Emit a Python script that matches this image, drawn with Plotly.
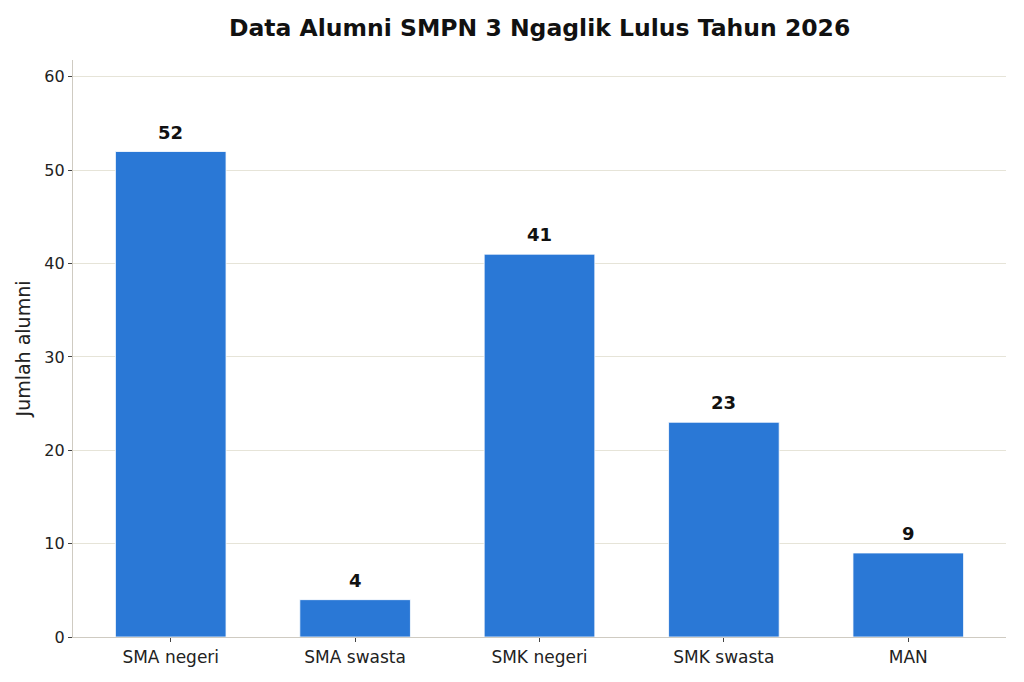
import plotly.graph_objects as go

categories = ["SMA negeri", "SMA swasta", "SMK negeri", "SMK swasta", "MAN"]
values = [52, 4, 41, 23, 9]
y_ticks = [0, 10, 20, 30, 40, 50, 60]

FONT = "DejaVu Sans"
BAR_COLOR = "#2a78d6"

fig = go.Figure()
fig.add_trace(go.Bar(
    x=categories, y=values, width=0.6,
    marker=dict(color=BAR_COLOR, line=dict(color="white", width=0.8)),
    hoverinfo="x+y",
))

for c, v in zip(categories, values):
    fig.add_annotation(x=c, y=v, text=f"<b>{v}</b>", showarrow=False,
                       yanchor="bottom", yshift=7,
                       font=dict(family=FONT, size=18, color="#111111"))

fig.update_layout(
    width=1024, height=682,
    margin=dict(l=73, r=18, t=60, b=45),
    paper_bgcolor="white", plot_bgcolor="white",
    font=dict(family=FONT, size=15, color="#222222"),
    title=dict(text="<b>Data Alumni SMPN 3 Ngaglik Lulus Tahun 2026</b>",
               x=0.527, xanchor="center", y=0.96, yanchor="middle",
               font=dict(family=FONT, size=23.5, color="#111111")),
    showlegend=False,
    bargap=0.4,
)
fig.update_xaxes(
    range=[-0.53, 4.53], showline=True, linecolor="#cfcbc2", linewidth=1.2,
    ticks="outside", ticklen=4, tickcolor="#444444", showgrid=False,
    tickfont=dict(family=FONT, size=17, color="#222222"),
)
fig.update_yaxes(
    range=[0, 61.8], tickvals=y_ticks, showline=True, linecolor="#cfcbc2", linewidth=1.2,
    ticks="outside", ticklen=4, tickcolor="#444444",
    showgrid=True, gridcolor="#e6e4d8", gridwidth=1, zeroline=False,
    tickfont=dict(family=FONT, size=16, color="#222222"),
    title=dict(text="Jumlah alumni", font=dict(family=FONT, size=19, color="#222222"), standoff=8),
)

fig.write_html("out.html")
